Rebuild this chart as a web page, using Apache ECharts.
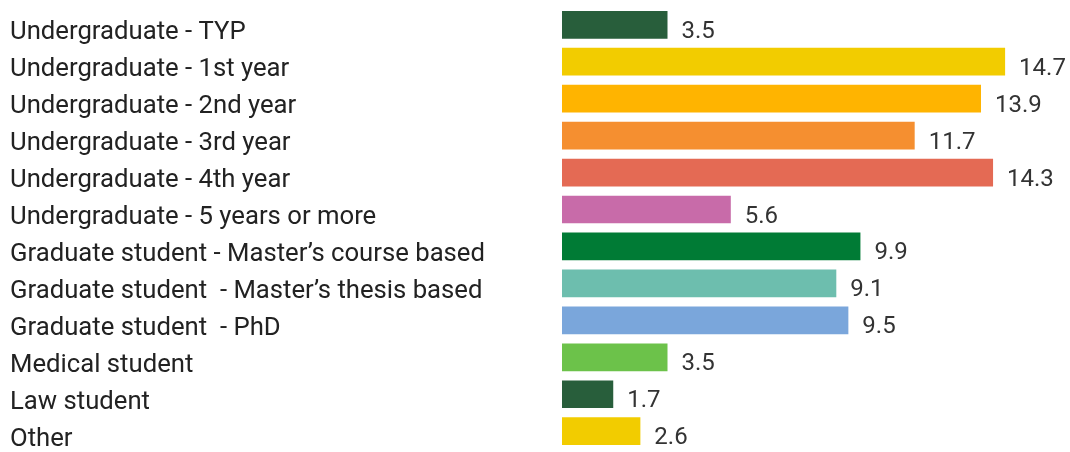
<!DOCTYPE html>
<html>
<head>
<meta charset="utf-8">
<script src="https://cdn.jsdelivr.net/npm/echarts@6/dist/echarts.min.js"></script>
<style>
  html, body { margin: 0; padding: 0; background: #ffffff; }
  #chart { width: 1070px; height: 452px; }
</style>
</head>
<body>
<div id="chart"></div>
<script>
// Respondents by year / program of study (%)
const categories = [
  'Undergraduate - TYP',
  'Undergraduate - 1st year',
  'Undergraduate - 2nd year',
  'Undergraduate - 3rd year',
  'Undergraduate - 4th year',
  'Undergraduate - 5 years or more',
  'Graduate student - Master\u2019s course based',
  'Graduate student  - Master\u2019s thesis based',
  'Graduate student  - PhD',
  'Medical student',
  'Law student',
  'Other'
];
const values = [3.5, 14.7, 13.9, 11.7, 14.3, 5.6, 9.9, 9.1, 9.5, 3.5, 1.7, 2.6];
const barColors = [
  '#285e3b', '#f2cc00', '#ffb400', '#f58f30', '#e46a54', '#c86ba9',
  '#007b35', '#6dbeae', '#7aa6db', '#6cc24a', '#285e3b', '#f2cc00'
];

const chart = echarts.init(document.getElementById('chart'), null, { renderer: 'canvas' });

chart.setOption({
  animation: false,
  backgroundColor: '#ffffff',
  grid: { left: 562, top: 6.3, width: 482.3, height: 448.3, containLabel: false },
  xAxis: {
    type: 'value', min: 0, max: 16,
    show: false
  },
  yAxis: {
    type: 'category',
    data: categories,
    inverse: true,
    axisLine: { show: false },
    axisTick: { show: false },
    splitLine: { show: false },
    axisLabel: {
      inside: false,
      interval: 0,
      showMinLabel: true,
      showMaxLabel: true,
      hideOverlap: false,
      align: 'left',
      margin: 552,
      // an empty spacer line above each name nudges it a little below the bar centre
      formatter: (name) => '{gap| }\n{t|' + name + '}',
      rich: {
        gap: { fontSize: 1, lineHeight: 16, height: 16 },
        t: {
          color: '#222222',
          fontFamily: 'Roboto',
          fontSize: 25.7,
          lineHeight: 30
        }
      }
    }
  },
  series: [{
    type: 'bar',
    data: values.map((v, i) => ({ value: v, itemStyle: { color: barColors[i] } })),
    barCategoryGap: '25%',
    label: {
      show: true,
      position: 'right',
      distance: 14,
      color: '#333333',
      fontFamily: 'Roboto',
      fontSize: 24,
      offset: [0, 7]
    }
  }]
});
</script>
</body>
</html>
